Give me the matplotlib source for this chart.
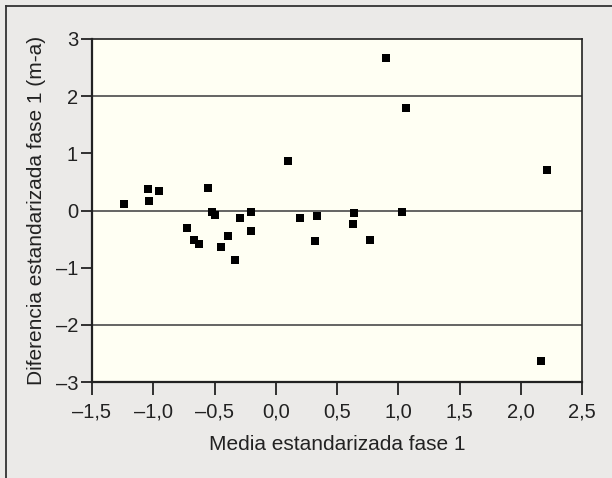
import matplotlib.pyplot as plt
from matplotlib.lines import Line2D
from matplotlib.ticker import FuncFormatter

plt.rcParams['font.family'] = ['Liberation Sans', 'DejaVu Sans']

# media (x) y diferencia (y) estandarizadas, fase 1
media = [-1.235, -1.044, -1.038, -0.955, -0.550, -0.522, -0.496, -0.722,
         -0.671, -0.630, -0.445, -0.391, -0.333, -0.289, -0.203, -0.203,
         0.097, 0.202, 0.317, 0.333, 0.629, 0.635, 0.773, 0.900,
         1.063, 1.034, 2.216, 2.162]
diferencia = [0.12, 0.373, 0.158, 0.338, 0.385, -0.018, -0.07, -0.298,
              -0.514, -0.584, -0.642, -0.444, -0.870, -0.123, -0.018, -0.350,
              0.858, -0.134, -0.537, -0.093, -0.239, -0.041, -0.508, 2.661,
              1.786, -0.029, 0.706, -2.627]
ref_lines = [2, 0, -2]
x_ticks = [-1.5, -1.0, -0.5, 0.0, 0.5, 1.0, 1.5, 2.0, 2.5]
y_ticks = [-3, -2, -1, 0, 1, 2, 3]

bg = '#ebeae8'
txt = '#222222'

fig = plt.figure(figsize=(6.12, 4.78), dpi=100, facecolor=bg)
ax = fig.add_axes([92 / 612, 1 - 382 / 478, 490 / 612, 343 / 478])
ax.set_facecolor('#fffff3')

# marco exterior
fig.add_artist(Line2D([6 / 612, 6 / 612], [0, 1 - 6 / 478], transform=fig.transFigure,
                      color='#333333', lw=1.3))
fig.add_artist(Line2D([6 / 612, 1], [1 - 6 / 478, 1 - 6 / 478], transform=fig.transFigure,
                      color='#333333', lw=1.3))

for yv in ref_lines:
    ax.axhline(yv, color='#4a4a4a', lw=1.2, zorder=1)

ax.scatter(media, diferencia, marker='s', s=30, color='black', zorder=3, linewidths=0)

ax.set_xlim(-1.5, 2.5)
ax.set_ylim(-3, 3)
ax.set_xticks(x_ticks)
ax.set_yticks(y_ticks)

def fmt_x(v, pos):
    return f'{v:.1f}'.replace('.', ',').replace('-', '\u2013')

def fmt_y(v, pos):
    return f'{int(round(v))}'.replace('-', '\u2013')

ax.xaxis.set_major_formatter(FuncFormatter(fmt_x))
ax.yaxis.set_major_formatter(FuncFormatter(fmt_y))

ax.tick_params(axis='x', direction='out', length=9, width=1.3, color='#222222',
               labelsize=14.5, labelcolor=txt, pad=6)
ax.tick_params(axis='y', direction='out', length=8, width=1.3, color='#222222',
               labelsize=14.5, labelcolor=txt, pad=2)

for side in ['left', 'bottom']:
    ax.spines[side].set_linewidth(1.6)
    ax.spines[side].set_color('#222222')
for side in ['top', 'right']:
    ax.spines[side].set_linewidth(1.2)
    ax.spines[side].set_color('#222222')

ax.set_xlabel('Media estandarizada fase 1', fontsize=15, color=txt, va='center')
ax.set_ylabel('Diferencia estandarizada fase 1 (m-a)', fontsize=15, color=txt, va='center')
ax.xaxis.set_label_coords(0.5, (382 - 445) / 343)
ax.yaxis.set_label_coords((37 - 92) / 490, 0.5)

fig.savefig('out.png', dpi=100, facecolor=bg)
